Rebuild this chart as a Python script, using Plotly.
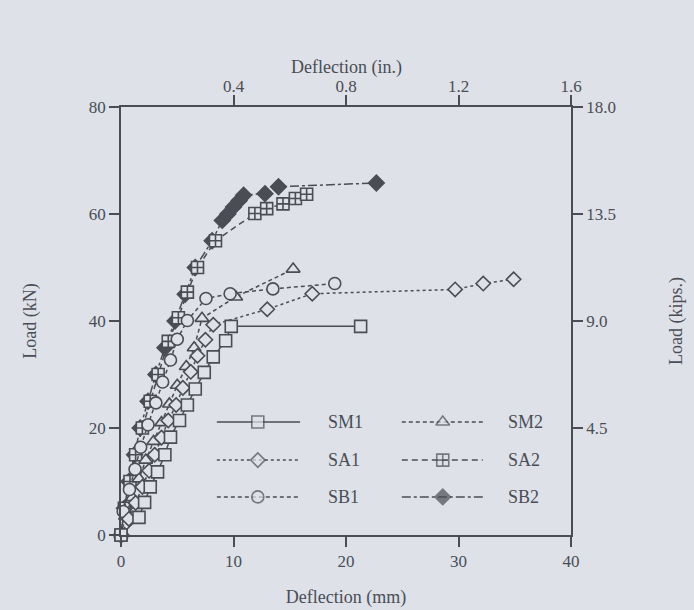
import plotly.graph_objects as go

# Load-deflection test results (deflection in mm, load in kN)
sm1_defl = [0, 1.6, 2.1, 2.6, 3.25, 3.9, 4.4, 5.2, 5.9, 6.6, 7.4, 8.2, 9.3, 9.8, 21.3]
sm1_load = [0, 3.3, 6.1, 9.0, 11.8, 15.0, 18.3, 21.4, 24.3, 27.3, 30.4, 33.3, 36.3, 39.0, 39.0]

sa1_defl = [0, 0.7, 1.3, 1.9, 2.5, 3.0, 3.6, 4.2, 4.9, 5.5, 6.2, 6.8, 7.5, 8.2, 13.0, 17.0, 29.7, 32.2, 34.9]
sa1_load = [0, 3.0, 6.0, 9.0, 12.0, 15.0, 18.2, 21.4, 24.3, 27.5, 30.5, 33.5, 36.5, 39.3, 42.2, 45.1, 45.9, 47.0, 47.8]

sb1_defl = [0, 0.2, 0.75, 1.25, 1.75, 2.4, 3.1, 3.7, 4.4, 5.0, 5.9, 7.55, 9.7, 13.5, 19.0]
sb1_load = [0, 4.4, 8.5, 12.3, 16.4, 20.6, 24.7, 28.6, 32.7, 36.6, 40.1, 44.2, 45.1, 46.0, 47.0]

sm2_defl = [0, 0.4, 1.0, 1.6, 2.2, 2.9, 3.6, 4.3, 5.0, 5.8, 6.5, 7.2, 10.2, 15.3]
sm2_load = [0, 3.5, 7.0, 10.5, 14.0, 17.5, 21.0, 24.5, 28.0, 31.5, 35.0, 40.5, 44.5, 49.7]

sa2_defl = [0, 0.3, 0.8, 1.3, 1.9, 2.6, 3.3, 4.2, 5.1, 5.9, 6.8, 8.4, 11.9, 12.95, 14.4, 15.5, 16.5]
sa2_load = [0, 5, 10, 15, 20, 25, 30, 36.2, 40.6, 45.4, 50, 55, 60.1, 61.0, 61.9, 62.9, 63.7]

sb2_defl = [0, 0.3, 0.7, 1.2, 1.7, 2.4, 3.1, 3.9, 4.8, 5.7, 6.6, 8.1, 9.0, 9.5, 10.0, 10.5, 10.9, 12.8, 14.0, 22.7]
sb2_load = [0, 5, 10, 15, 20, 25, 30, 35, 40, 45, 50, 55, 58.8, 60.0, 61.3, 62.5, 63.5, 63.8, 65.1, 65.8]

# Secondary (imperial) axis ticks
in_ticks = [0.4, 0.8, 1.2, 1.6]
in_labels = ["0.4", "0.8", "1.2", "1.6"]
kip_ticks = [4.5, 9.0, 13.5, 18.0]
kip_labels = ["4.5", "9.0", "13.5", "18.0"]

BG = "#dee1e8"
INK = "#4a4d55"
FONT = "Liberation Serif"

series = [
    # name, x, y, dash, symbol, filled
    ("SB2", sb2_defl, sb2_load, "dashdot", "diamond", True),
    ("SA2", sa2_defl, sa2_load, "6px,4px", "square-cross", False),
    ("SM2", sm2_defl, sm2_load, "4px,3px", "triangle-up", False),
    ("SB1", sb1_defl, sb1_load, "4px,3px", "circle", False),
    ("SA1", sa1_defl, sa1_load, "dot", "diamond", False),
    ("SM1", sm1_defl, sm1_load, "solid", "square", False),
]
sizes = {"SB2": 12, "SA2": 12, "SM2": 12, "SB1": 12, "SA1": 11, "SM1": 12}

fig = go.Figure()

for name, xs, ys, dash, sym, filled in series:
    fig.add_trace(go.Scatter(
        x=xs, y=ys, mode="lines+markers", name=name, showlegend=False,
        cliponaxis=False,
        line=dict(color=INK, width=1.5, dash=dash),
        marker=dict(symbol=sym, size=sizes[name],
                    color=INK if filled else BG,
                    line=dict(color=INK, width=1.6)),
    ))

# Invisible trace so the imperial axes are drawn
fig.add_trace(go.Scatter(x=[None], y=[None], xaxis="x2", yaxis="y2",
                         showlegend=False, hoverinfo="skip"))

# Hand-drawn key inside the plot (positions are plot-area fractions)
key_rows = {"SM1": (0, 0.264), "SA1": (0, 0.175), "SB1": (0, 0.089),
            "SM2": (1, 0.264), "SA2": (1, 0.175), "SB2": (1, 0.089)}
key_cols = [(0.213, 0.304, 0.398, 0.455), (0.624, 0.715, 0.804, 0.856)]
for name, xs, ys, dash, sym, filled in series:
    col, yy = key_rows[name]
    x0, xm, x1, xt = key_cols[col]
    fig.add_trace(go.Scatter(
        x=[x0, xm, x1], y=[yy, yy, yy], xaxis="x3", yaxis="y3",
        mode="lines+markers", showlegend=False, hoverinfo="skip",
        line=dict(color=INK, width=1.5, dash=dash),
        marker=dict(symbol=sym, size=[0, sizes[name], 0],
                    color=INK if filled else BG,
                    line=dict(color=INK, width=[0, 1.6, 0])),
    ))
    fig.add_annotation(x=xt, y=yy, xref="paper", yref="paper", text=name,
                       showarrow=False, xanchor="left", yanchor="middle",
                       font=dict(family=FONT, size=18, color=INK))

# Title of the top (inch) axis, placed a little higher above its labels
fig.add_annotation(x=0.5, y=1.093, xref="paper", yref="paper",
                   text="Deflection (in.)", showarrow=False,
                   xanchor="center", yanchor="middle",
                   font=dict(family=FONT, size=18, color=INK))

axis_common = dict(showgrid=False, zeroline=False, showline=True,
                   linecolor=INK, linewidth=1.5, ticks="outside",
                   ticklen=10, tickwidth=1.5, tickcolor=INK, automargin=False,
                   tickfont=dict(family=FONT, size=17, color=INK))

fig.update_layout(
    width=694, height=610, autosize=False,
    margin=dict(l=121, r=123, t=107, b=75),
    paper_bgcolor=BG, plot_bgcolor=BG,
    font=dict(family=FONT, color=INK),
    xaxis=dict(range=[0, 40], tickvals=[0, 10, 20, 30, 40],
               title=dict(text="Deflection (mm)", standoff=20,
                          font=dict(family=FONT, size=18, color=INK)),
               **axis_common),
    yaxis=dict(range=[0, 80], tickvals=[0, 20, 40, 60, 80],
               title=dict(text="Load (kN)", standoff=48,
                          font=dict(family=FONT, size=18, color=INK)),
               **axis_common),
    xaxis2=dict(overlaying="x", side="top", range=[0, 1.6],
                tickvals=in_ticks, ticktext=in_labels,
                ticklabelstandoff=-4,
                **axis_common),
    yaxis2=dict(overlaying="y", side="right", range=[0, 18],
                tickvals=kip_ticks, ticktext=kip_labels,
                title=dict(text="Load (kips.)", standoff=54,
                           font=dict(family=FONT, size=18, color=INK)),
                **axis_common),
    xaxis3=dict(overlaying="x", range=[0, 1], visible=False),
    yaxis3=dict(overlaying="y", range=[0, 1], visible=False),
)

fig.write_html("out.html")
